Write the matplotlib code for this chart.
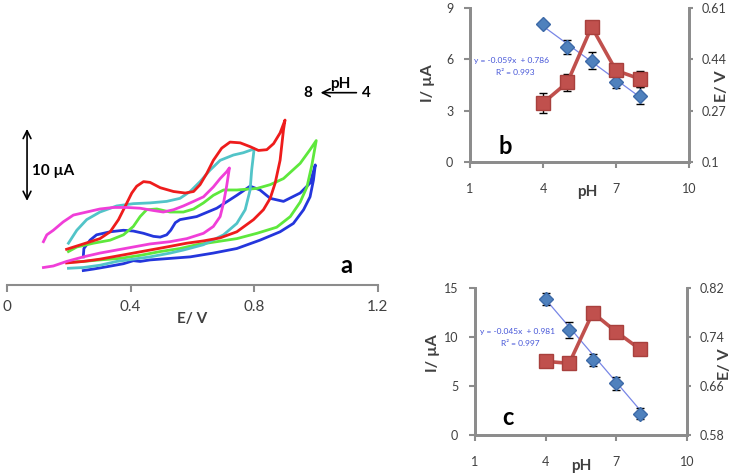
"""
CV curves at different pH (a) and peak current / potential vs pH (b, c)
"""

import matplotlib.pyplot as plt
import numpy as np

plt.rcParams["font.family"] = ["Lato", "DejaVu Sans"]

# ---- panel a: cyclic voltammograms (E in V, I in uA) ----
red_E = [0.193, 0.247, 0.301, 0.334, 0.361, 0.382, 0.404, 0.420, 0.442, 0.463, 0.496, 0.539,
         0.577, 0.604, 0.625, 0.647, 0.668, 0.695, 0.722, 0.755, 0.787, 0.814, 0.841, 0.863,
         0.884, 0.900, 0.895, 0.884, 0.868, 0.852, 0.830, 0.798, 0.744, 0.690, 0.636, 0.582,
         0.517, 0.409, 0.301, 0.247, 0.193]
red_I = [4.7, 5.4, 6.1, 7.0, 8.6, 10.3, 12.1, 13.0, 13.6, 13.5, 12.8, 12.3,
         12.1, 12.3, 13.2, 14.7, 16.4, 18.0, 18.8, 18.7, 18.2, 17.7, 17.8, 18.6,
         20.0, 21.7, 20.4, 16.4, 13.4, 11.4, 9.9, 8.6, 7.0, 6.2, 5.8, 5.5,
         5.0, 4.2, 3.4, 3.1, 2.9]

cyan_E = [0.199, 0.226, 0.258, 0.301, 0.355, 0.409, 0.463, 0.517, 0.560, 0.593, 0.625, 0.657,
          0.690, 0.733, 0.765, 0.800, 0.792, 0.787, 0.771, 0.744, 0.701, 0.636, 0.571, 0.528,
          0.463, 0.409, 0.355, 0.301, 0.247, 0.199]
cyan_I = [5.5, 7.2, 8.6, 9.6, 10.4, 10.7, 10.8, 11.0, 11.4, 12.3, 13.6, 15.1,
          16.4, 17.1, 17.4, 17.9, 15.1, 12.5, 9.9, 8.1, 6.6, 5.3, 4.6, 4.2,
          3.7, 3.4, 3.1, 2.6, 2.3, 2.2]

magenta_E = [0.118, 0.129, 0.150, 0.182, 0.215, 0.258, 0.301, 0.344, 0.388, 0.431, 0.474, 0.506,
             0.539, 0.571, 0.604, 0.636, 0.668, 0.690, 0.711, 0.720, 0.711, 0.701, 0.690, 0.668,
             0.636, 0.582, 0.528, 0.463, 0.409, 0.355, 0.301, 0.247, 0.193, 0.150, 0.118]
magenta_I = [5.7, 6.6, 7.2, 8.3, 9.2, 9.6, 10.0, 10.2, 10.2, 10.1, 9.8, 9.6,
             9.9, 10.4, 11.0, 11.6, 12.9, 14.0, 14.9, 15.4, 13.0, 10.8, 9.0, 7.7,
             6.8, 6.1, 5.7, 5.4, 5.0, 4.6, 4.2, 3.7, 3.1, 2.5, 2.3]

green_E = [0.199, 0.226, 0.280, 0.334, 0.377, 0.409, 0.431, 0.452, 0.485, 0.528, 0.571, 0.604,
           0.636, 0.668, 0.701, 0.744, 0.809, 0.852, 0.895, 0.949, 0.981, 1.001, 0.987, 0.971,
           0.949, 0.917, 0.873, 0.809, 0.744, 0.679, 0.614, 0.560, 0.496, 0.431, 0.366, 0.301,
           0.247, 0.199]
green_I = [4.4, 5.0, 5.5, 5.9, 6.6, 7.7, 9.0, 9.9, 10.0, 9.6, 9.6, 10.0,
           10.8, 11.8, 12.5, 12.5, 12.7, 13.2, 14.0, 16.0, 17.8, 19.0, 15.8, 12.9,
           10.9, 9.0, 7.6, 6.8, 6.1, 5.7, 5.3, 4.8, 4.4, 3.9, 3.5, 3.3,
           3.1, 3.0]

blue_E = [0.247, 0.249, 0.269, 0.290, 0.334, 0.377, 0.409, 0.442, 0.474, 0.496, 0.517, 0.530,
          0.545, 0.560, 0.614, 0.679, 0.744, 0.787, 0.819, 0.852, 0.895, 0.949, 0.981, 0.998,
          0.992, 0.981, 0.960, 0.927, 0.884, 0.819, 0.744, 0.668, 0.593, 0.528, 0.463, 0.431,
          0.409, 0.377, 0.323, 0.280, 0.247]
blue_I = [3.7, 4.8, 5.9, 6.6, 7.0, 7.2, 7.1, 6.8, 6.4, 6.3, 6.6, 7.2,
          8.2, 8.6, 9.0, 10.1, 11.8, 13.0, 12.5, 11.4, 11.0, 12.1, 13.4, 15.8,
          13.8, 11.6, 9.9, 8.1, 7.0, 5.9, 4.8, 4.2, 3.7, 3.5, 3.3, 3.1,
          3.2, 2.8, 2.4, 2.1, 1.9]

# ---- panels b and c: pH dependence ----
ph = [4, 5, 6, 7, 8]

b_current = [3.45, 4.65, 7.9, 5.35, 4.85]
b_current_err = [0.6, 0.5, 0.3, 0.35, 0.45]
b_potential = [0.557, 0.482, 0.435, 0.366, 0.319]
b_potential_err = [0.005, 0.023, 0.028, 0.02, 0.028]
b_fit = (-0.059, 0.786, 0.993)

c_current = [7.5, 7.3, 12.45, 10.5, 8.75]
c_current_err = [0.5, 0.6, 0.2, 0.6, 0.5]
c_potential = [0.801, 0.751, 0.702, 0.664, 0.615]
c_potential_err = [0.0096, 0.013, 0.0096, 0.011, 0.0096]
c_fit = (-0.045, 0.981, 0.997)

GRAY = "#8c8c8c"
TXT = "#404040"
RED = "#c0504d"
BLUE = "#4f81bd"

fig = plt.figure(figsize=(7.33, 4.75), dpi=100)

# panel a
ax = fig.add_axes([0.0095, 0.4, 0.5058, 0.4737])
for E, I, col in [(blue_E, blue_I, "#2436dc"), (green_E, green_I, "#5ee83c"),
                  (cyan_E, cyan_I, "#52c4c8"), (red_E, red_I, "#ee1c1c"),
                  (magenta_E, magenta_I, "#f03ed8")]:
    ax.plot(E, I, color=col, lw=2.0, solid_joinstyle="round")
ax.set_xlim(0, 1.2)
ax.set_ylim(0, 29.6)
for s in ["left", "right", "top"]:
    ax.spines[s].set_visible(False)
ax.spines["bottom"].set_color(GRAY)
ax.spines["bottom"].set_linewidth(1.5)
ax.set_yticks([])
ax.set_xticks([0, 0.4, 0.8, 1.2])
ax.set_xticklabels(["0", "0.4", "0.8", "1.2"])
ax.tick_params(axis="x", colors=GRAY, labelcolor=TXT, labelsize=11, width=1.5,
               length=5, pad=6)
ax.set_xlabel("E/ V", fontsize=11, fontweight="bold", color=TXT, labelpad=-2)
ax.annotate("", xy=(0.065, 20.9), xytext=(0.065, 10.7),
            arrowprops=dict(arrowstyle="<->", color="black", lw=1.2, mutation_scale=14))
ax.text(0.082, 15.0, "10 µA", fontsize=11, fontweight="bold", va="center")
ax.text(1.1, 2.6, "a", fontsize=17, fontweight="bold", ha="center", va="center")
ax.annotate("", xy=(1.006, 25.3), xytext=(1.14, 25.3),
            arrowprops=dict(arrowstyle="->", color="black", lw=1.2, mutation_scale=14))
ax.text(0.975, 25.3, "8", fontsize=11, fontweight="bold", ha="center", va="center")
ax.text(1.163, 25.3, "4", fontsize=11, fontweight="bold", ha="center", va="center")
ax.text(1.079, 26.5, "pH", fontsize=11, fontweight="bold", ha="center", va="center")


def ph_panel(rect, cur, cur_err, pot, pot_err, fit, ylim, yticks, rlim, rticks, rlabels,
             letter, letter_xy, eq_xy, r2_xy, ylab_xy, xlab_xy, rlab_xy):
    ax1 = fig.add_axes(rect)
    ax2 = ax1.twinx()
    ax1.errorbar(ph, cur, yerr=cur_err, color=RED, lw=2.6, marker="s", ms=10,
                 mfc=RED, mec="#a8403d", ecolor="black", elinewidth=1, capsize=3,
                 capthick=1, zorder=3)
    xs = np.array([ph[0], ph[-1]])
    ax2.plot(xs, fit[0] * xs + fit[1], color="#7886e6", lw=0.9, zorder=2)
    ax2.errorbar(ph, pot, yerr=pot_err, color=BLUE, ls="none", marker="D", ms=7,
                 mfc=BLUE, mec="#3d6aa8", ecolor="black", elinewidth=1, capsize=3,
                 capthick=1, zorder=3)
    ax1.set_xlim(1, 10)
    ax1.set_xticks([1, 4, 7, 10])
    ax1.set_ylim(*ylim)
    ax1.set_yticks(yticks)
    ax2.set_ylim(*rlim)
    ax2.set_yticks(rticks)
    ax2.set_yticklabels(rlabels)
    for a in (ax1, ax2):
        for s in a.spines.values():
            s.set_color(GRAY)
            s.set_linewidth(2)
        a.spines["top"].set_visible(False)
        a.tick_params(colors=GRAY, labelcolor=TXT, labelsize=9, width=1.5, length=4)
    ax1.tick_params(axis="x", pad=11)
    ax1.tick_params(axis="y", pad=8)
    ax2.tick_params(axis="y", pad=6, length=3)
    ax1.set_xlabel("pH", fontsize=11, fontweight="bold", color=TXT)
    ax1.xaxis.set_label_coords(*xlab_xy)
    ax1.set_ylabel("I/ µA", fontsize=11.5, fontweight="bold", color=TXT)
    ax1.yaxis.set_label_coords(*ylab_xy)
    ax2.set_ylabel("E/ V", fontsize=11.5, fontweight="bold", color=TXT)
    ax2.yaxis.set_label_coords(*rlab_xy)
    ax1.text(*letter_xy, letter, fontsize=17, fontweight="bold", ha="center", va="center")
    ax1.text(*eq_xy, f"y = {fit[0]:.3f}x  + {fit[1]:.3f}", fontsize=6, color="#4656d8",
             ha="center", va="center")
    ax1.text(*r2_xy, f"R² = {fit[2]:.3f}", fontsize=6, color="#4656d8",
             ha="center", va="center")
    ax1.set_zorder(ax2.get_zorder() + 1)
    ax1.patch.set_visible(False)


ph_panel([0.6412, 0.6589, 0.2988, 0.3242], b_current, b_current_err, b_potential,
         b_potential_err, b_fit, (0, 9), [0, 3, 6, 9], (0.1, 0.61),
         [0.1, 0.27, 0.44, 0.61], ["0.1", "0.27", "0.44", "0.61"],
         "b", (2.44, 0.9), (2.7, 5.96), (2.87, 5.21),
         (-0.16, 0.513), (0.534, -0.15), (1.119, 0.49))

ph_panel([0.648, 0.0842, 0.2892, 0.3101], c_current, c_current_err, c_potential,
         c_potential_err, c_fit, (0, 15), [0, 5, 10, 15], (0.58, 0.82),
         [0.58, 0.66, 0.74, 0.82], ["0.58", "0.66", "0.74", "0.82"],
         "c", (2.4, 1.75), (2.82, 10.52), (2.93, 9.27),
         (-0.165, 0.557), (0.503, -0.165), (1.146, 0.48))

fig.savefig("out.png", dpi=100)
